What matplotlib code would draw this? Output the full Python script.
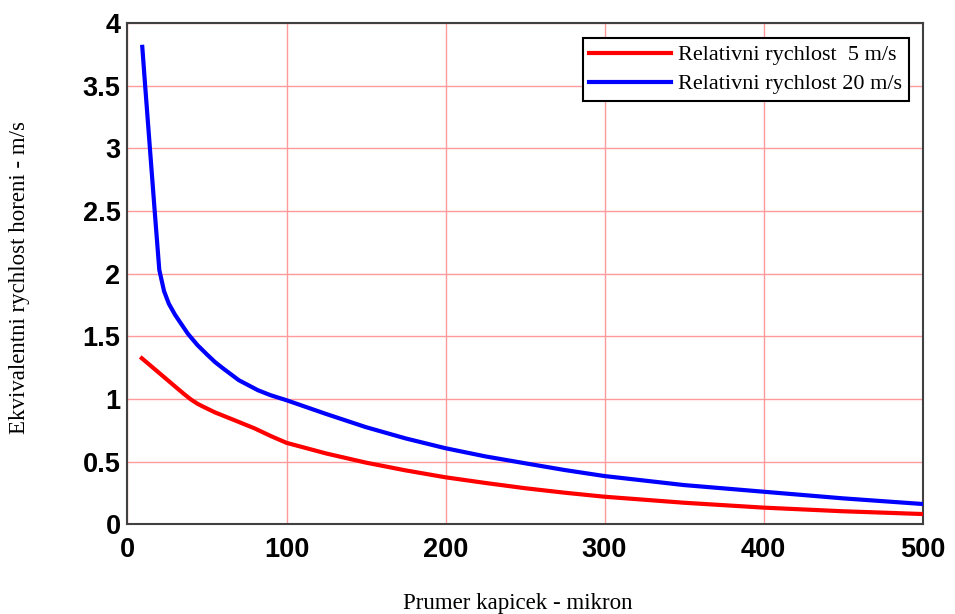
import matplotlib
matplotlib.use("Agg")
import matplotlib.pyplot as plt

# Droplet diameter (micron) and equivalent burning rate (m/s)
x_5 = [9, 20, 30, 36, 40, 44, 48, 55, 67, 80, 90, 100, 125, 150, 175, 200,
       225, 250, 275, 300, 350, 400, 450, 500]
y_5 = [1.325, 1.207, 1.099, 1.035, 0.995, 0.962, 0.936, 0.893, 0.832, 0.765,
       0.705, 0.65, 0.565, 0.492, 0.43, 0.375, 0.33, 0.288, 0.252, 0.22, 0.172,
       0.133, 0.104, 0.082]

x_20 = [9.3, 11.1, 14.1, 17.1, 20, 23, 26, 30, 38, 44, 50, 55, 60, 70, 82, 90,
        100, 125, 150, 175, 200, 225, 250, 275, 300, 350, 400, 450, 500]
y_20 = [3.81, 3.5, 3.0, 2.5, 2.03, 1.86, 1.76, 1.67, 1.52, 1.43, 1.355, 1.295,
        1.245, 1.15, 1.07, 1.03, 0.99, 0.88, 0.775, 0.685, 0.607, 0.542, 0.487,
        0.433, 0.385, 0.313, 0.26, 0.207, 0.162]

x_ticks = [0, 100, 200, 300, 400, 500]
y_ticks = [0, 0.5, 1, 1.5, 2, 2.5, 3, 3.5, 4]
y_tick_labels = ["0", "0.5", "1", "1.5", "2", "2.5", "3", "3.5", "4"]

label_5 = "Relativni rychlost  5 m/s"
label_20 = "Relativni rychlost 20 m/s"

fig = plt.figure(figsize=(9.55, 6.14), dpi=100)
ax = fig.add_axes([0.1335, 0.1461, 0.8325, 0.8164])

ax.plot(x_5, y_5, color="#ff0000", lw=3, label=label_5, zorder=3,
        solid_joinstyle="round")
ax.plot(x_20, y_20, color="#0000ff", lw=3, label=label_20, zorder=3,
        solid_joinstyle="round")

ax.set_xlim(0, 500)
ax.set_ylim(0, 4)
ax.set_xticks(x_ticks)
ax.set_yticks(y_ticks)
ax.set_yticklabels(y_tick_labels)
ax.grid(True, color="#ff9a9a", lw=1.0)
ax.set_axisbelow(True)
ax.tick_params(axis="x", length=0, pad=9)
ax.tick_params(axis="y", length=0, pad=5)
for lab in ax.get_xticklabels() + ax.get_yticklabels():
    lab.set_fontfamily("Liberation Sans")
    lab.set_fontweight("bold")
    lab.set_fontsize(19.5)
for sp in ax.spines.values():
    sp.set_color("#404040")
    sp.set_linewidth(1.5)

fig.text(517.5 / 955, 1 - 604 / 614, "Prumer kapicek - mikron",
         family="Liberation Serif", fontsize=16.5, ha="center", va="center")
fig.text(20 / 955, 1 - 278 / 614, "Ekvivalentni rychlost horeni - m/s",
         family="Liberation Serif", fontsize=16.5, ha="center", va="center",
         rotation=90)

leg = ax.legend(loc="upper right", bbox_to_anchor=(0.983, 0.970),
                prop={"family": "Liberation Serif", "size": 16},
                fancybox=False, framealpha=1, edgecolor="black",
                handlelength=3.65, borderpad=0.3, labelspacing=0.38,
                handletextpad=0.35, borderaxespad=0)
leg.get_frame().set_linewidth(1.5)

fig.savefig("out.png", dpi=100)
